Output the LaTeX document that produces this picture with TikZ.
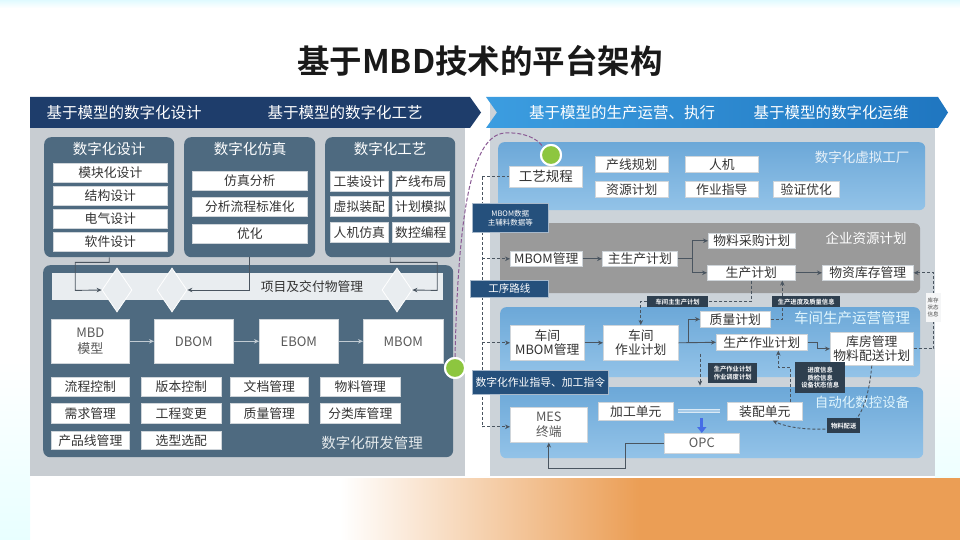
\documentclass[tikz,border=0pt]{standalone}
\usepackage{fontspec}
\setmainfont{Noto Sans CJK SC}[BoldFont={* Bold}]
\usetikzlibrary{shapes.geometric,arrows.meta,calc}
\definecolor{navy}{HTML}{1E3D6B}
\definecolor{hblueA}{HTML}{3C9DE0}
\definecolor{hblueB}{HTML}{1F76C0}
\definecolor{slate}{HTML}{4E6A80}
\definecolor{panelL}{HTML}{C8CDD2}
\definecolor{panelR}{HTML}{CCD3D9}
\definecolor{secA}{HTML}{6CA8D8}
\definecolor{secB}{HTML}{93C3E8}
\definecolor{secGray}{HTML}{9A9A9A}
\definecolor{lblC}{HTML}{25507C}
\definecolor{darkTag}{HTML}{2E3F4F}
\definecolor{greenC}{HTML}{8DC63F}
\definecolor{orangeC}{HTML}{EB9E55}
\definecolor{purpleC}{HTML}{8A5A94}
\definecolor{lineC}{HTML}{4A5560}
\definecolor{itemB}{HTML}{CFD5DA}
\definecolor{barC}{HTML}{E9EDF0}
\newcommand\fsz[2]{\fontsize{#1}{#2}\selectfont}
\begin{document}
\begin{tikzpicture}[x=1pt,y=-1pt,
  box/.style={anchor=north west,inner sep=0pt,align=center},
  cont/.style={box,rounded corners=7pt,fill=slate},
  itm/.style={box,fill=white,draw=itemB,line width=0.6pt,text=black!80,font=\fsz{12.8}{14.5}},
  bom/.style={box,fill=white,draw=itemB,line width=0.6pt,text=black!65,font=\fsz{13}{15.5}},
  ctitle/.style={text=white,font=\fsz{14.5}{16}},
  htext/.style={text=white,font=\fsz{15.5}{17}},
  tag/.style={box,fill=lblC,draw=white!60!lblC,text=white,line width=0.6pt},
  mini/.style={box,fill=darkTag,text=white,font=\bfseries\fsz{6.3}{7.6}},
  arr/.style={draw=lineC,line width=0.9pt,-{Stealth[length=5pt,width=4.5pt]}},
  ln/.style={draw=lineC,line width=0.9pt},
  dsh/.style={draw=lineC,line width=0.9pt,dash pattern=on 3pt off 2pt},
  darr/.style={dsh,-{Stealth[length=5pt,width=4.5pt]}},
  gdot/.style={circle,fill=greenC,draw=white,line width=2pt,minimum size=20pt,inner sep=0pt},
  dia/.style={shape=diamond,fill=barC,draw=white,line width=0.8pt,minimum width=30pt,minimum height=44pt,inner sep=0pt},
]
\useasboundingbox (0,0) rectangle (960,540);
% ---------- background ----------
\fill[white] (0,0) rectangle (960,540);
\shade[top color=blue!15!cyan!12,bottom color=white] (0,0) rectangle (960,8);
\shade[top color=white,bottom color=cyan!9] (0,360) rectangle (30,540);
\shade[top color=white,bottom color=cyan!7] (935,360) rectangle (960,478);
\shade[left color=white,right color=orangeC] (340,478) rectangle (640,540);
\fill[orangeC] (640,478) rectangle (960,540);
\fill[panelL] (30,97) rectangle (465,476);
\fill[panelR] (490,97) rectangle (935,476);
\fill[navy] (30,97) -- (470,97) -- (481,112.5) -- (470,128) -- (30,128) -- cycle;
\shade[left color=hblueA,right color=hblueB] (486,97) -- (938,97) -- (948,112.5) -- (938,128) -- (486,128) -- (497,112.5) -- cycle;

% ---------- title and headers ----------
\node[font=\bfseries\fsz{32.5}{36},text=black!90] (title) at (480,61) {基于MBD技术的平台架构};
\node[htext] (h1) at (124,112.5) {基于模型的数字化设计};
\node[htext] (h2) at (345,112.5) {基于模型的数字化工艺};
\node[htext] (h3) at (622,112.5) {基于模型的生产运营、执行};
\node[htext] (h4) at (831,112.5) {基于模型的数字化运维};

% ---------- left: three upper boxes ----------
\node[cont,minimum width=130,minimum height=120] (dsgn) at (44,137) {};
\node[ctitle] (dsgnT) at (109,149) {数字化设计};
\node[itm,minimum width=114,minimum height=19] (d1) at (53,163) {模块化设计};
\node[itm,minimum width=114,minimum height=19] (d2) at (53,186) {结构设计};
\node[itm,minimum width=114,minimum height=19] (d3) at (53,209) {电气设计};
\node[itm,minimum width=114,minimum height=19] (d4) at (53,232) {软件设计};

\node[cont,minimum width=131,minimum height=120] (sim) at (184,137) {};
\node[ctitle] (simT) at (250,149) {数字化仿真};
\node[itm,minimum width=115,minimum height=19] (s1) at (192,171) {仿真分析};
\node[itm,minimum width=115,minimum height=19] (s2) at (192,197) {分析流程标准化};
\node[itm,minimum width=115,minimum height=19] (s3) at (192,224) {优化};

\node[cont,minimum width=130,minimum height=120] (proc) at (325,137) {};
\node[ctitle] (procT) at (390,149) {数字化工艺};
\node[itm,minimum width=58,minimum height=20] (p1) at (330,171) {工装设计};
\node[itm,minimum width=57,minimum height=20] (p2) at (392,171) {产线布局};
\node[itm,minimum width=58,minimum height=20] (p3) at (330,196) {虚拟装配};
\node[itm,minimum width=57,minimum height=20] (p4) at (392,196) {计划模拟};
\node[itm,minimum width=58,minimum height=20] (p5) at (330,222) {人机仿真};
\node[itm,minimum width=57,minimum height=20] (p6) at (392,222) {数控编程};

% ---------- left: R&D management ----------
\node[cont,minimum width=410,minimum height=192] (mgmt) at (43,265) {};
\node[box,fill=barC,minimum width=391,minimum height=27] (bar) at (52,273) {};
\node[font=\fsz{12.8}{14.5},text=black!80] (barT) at (312,287) {项目及交付物管理};
\node[dia] (dia1) at (117,290) {};
\node[dia] (dia2) at (172,290) {};
\node[dia] (dia3) at (397,290) {};

\node[bom,minimum width=78,minimum height=44] (mbd) at (51,319) {MBD\\模型};
\node[bom,minimum width=79,minimum height=44] (dbom) at (154,319) {DBOM};
\node[bom,minimum width=79,minimum height=44] (ebom) at (259,319) {EBOM};
\node[bom,minimum width=80,minimum height=44] (mbom) at (363,319) {MBOM};

\node[itm,minimum width=78,minimum height=19] (m1) at (51,377) {流程控制};
\node[itm,minimum width=80,minimum height=19] (m2) at (141,377) {版本控制};
\node[itm,minimum width=78,minimum height=19] (m3) at (230,377) {文档管理};
\node[itm,minimum width=80,minimum height=19] (m4) at (320,377) {物料管理};
\node[itm,minimum width=78,minimum height=20] (m5) at (51,403) {需求管理};
\node[itm,minimum width=80,minimum height=20] (m6) at (141,403) {工程变更};
\node[itm,minimum width=78,minimum height=20] (m7) at (230,403) {质量管理};
\node[itm,minimum width=80,minimum height=20] (m8) at (320,403) {分类库管理};
\node[itm,minimum width=78,minimum height=18] (m9) at (51,431) {产品线管理};
\node[itm,minimum width=80,minimum height=18] (m10) at (141,431) {选型选配};
\node[text=white!85!slate,font=\fsz{14.5}{16}] (mgmtT) at (372,443) {数字化研发管理};

% left connectors
\draw[arr] (dsgn.south) -- ++(0,5) -| ++(-34,28) -- (dia1.west);
\draw[arr] (sim.south) |- (dia2.east);
\draw[arr] (proc.south) -- ++(0,5) -| ++(47,28) -- (dia3.east);
\draw[arr,draw=white!65!slate] (mbd.east) -- (dbom.west);
\draw[arr,draw=white!65!slate] (dbom.east) -- (ebom.west);
\draw[arr,draw=white!65!slate] (ebom.east) -- (mbom.west);

% ---------- right: sections ----------
\node[box,rounded corners=6pt,top color=secA,bottom color=secB,minimum width=427,minimum height=68] (vf) at (498,142) {};
\node[text=white!85!secA,font=\fsz{13.5}{15}] (vfT) at (862,157) {数字化虚拟工厂};
\node[itm,font=\fsz{13.5}{15},minimum width=73,minimum height=21] (gy) at (509,166) {工艺规程};
\node[itm,minimum width=73,minimum height=16] (cx) at (595,156) {产线规划};
\node[itm,minimum width=73,minimum height=16] (rj) at (685,156) {人机};
\node[itm,minimum width=73,minimum height=16] (zy) at (595,181) {资源计划};
\node[itm,minimum width=73,minimum height=16] (zd) at (685,181) {作业指导};
\node[itm,minimum width=66,minimum height=16] (yz) at (773,181) {验证优化};

\node[box,rounded corners=6pt,fill=secGray,minimum width=420,minimum height=70] (erp) at (500,223) {};
\node[text=white,font=\fsz{13.5}{15}] (erpT) at (866,238) {企业资源计划};
\node[itm,minimum width=72,minimum height=15] (mbomg) at (510,251) {MBOM管理};
\node[itm,minimum width=75,minimum height=15] (zsc) at (602,251) {主生产计划};
\node[itm,minimum width=87,minimum height=15] (wl) at (708,233) {物料采购计划};
\node[itm,minimum width=88,minimum height=15] (scjh) at (707,265) {生产计划};
\node[itm,minimum width=91,minimum height=15] (wz) at (822,265) {物资库存管理};

\node[box,rounded corners=6pt,top color=secA,bottom color=secB,minimum width=420,minimum height=70] (wsp) at (500,307) {};
\node[text=cyan!12!white,font=\fsz{14.5}{16}] (wspT) at (852,318) {车间生产运营管理};
\node[itm,minimum width=74,minimum height=35] (cjm) at (510,325) {车间\\MBOM管理};
\node[itm,minimum width=75,minimum height=35] (cjzy) at (603,325) {车间\\作业计划};
\node[itm,minimum width=70,minimum height=16] (zljh) at (700,311) {质量计划};
\node[itm,minimum width=91,minimum height=16] (sczy) at (716,334) {生产作业计划};
\node[itm,minimum width=83,minimum height=33] (kf) at (830,332) {库房管理\\物料配送计划};

\node[box,rounded corners=6pt,top color=secA,bottom color=secB,minimum width=423,minimum height=71] (auto) at (500,387) {};
\node[text=white!88!cyan,font=\fsz{13.5}{15}] (autoT) at (862,402) {自动化数控设备};
\node[itm,text=black!65,minimum width=77,minimum height=35] (mes) at (510,407) {MES\\终端};
\node[itm,minimum width=75,minimum height=18] (jg) at (598,402) {加工单元};
\node[itm,minimum width=75,minimum height=18] (zp) at (727,402) {装配单元};
\node[itm,text=black!65,minimum width=75,minimum height=20] (opc) at (664,433) {OPC};

% ---------- right connectors ----------
\coordinate (sp) at (482,0);
\draw[dsh] (gy.west -| sp) -- ([yshift=-2pt]mes.west -| sp);
\draw[dsh] (gy.west -| sp) -- (gy.west);
\draw[darr] (mbomg.west -| sp) -- (mbomg.west);
\draw[darr] (cjm.west -| sp) -- (cjm.west);
\draw[darr] ([yshift=-2pt]mes.west -| sp) -- ([yshift=-2pt]mes.west);

\draw[arr] (mbomg.east) -- (zsc.west);
\draw[ln] (zsc.east) -- ++(15,0) coordinate (br);
\draw[arr] (br) |- (wl.west);
\draw[arr] (br) |- (scjh.west);
\draw[arr] (scjh.east) -- (wz.east -| wz.west);
\draw[darr] (scjh.south) -- ++(0,21) -| (cjzy.north);
\draw[darr] (zljh.east) -| ([xshift=31pt]scjh.south);
\draw[darr] (kf.east) -- ++(20,0) |- (wz.east);

\draw[arr] (cjm.east) -- (cjzy.west);
\draw[arr] (cjzy.east) -- (sczy.west);
\draw[arr] ([xshift=10pt]cjzy.east) |- (zljh.west);
\draw[arr] (sczy.east) -- ++(10,0) |- (kf.west);
\draw[darr] ([xshift=-16pt,yshift=-3pt]sczy.south west) -- ++(0,32);
\draw[darr] ([xshift=25.5pt]zp.north) |- ([xshift=16.5pt,yshift=-17pt]sczy.south) -- ([xshift=16.5pt]sczy.south);
\draw[line width=1pt,draw=white!75!secA,double=secA!60!white,double distance=2pt] ([xshift=4pt]jg.east) -- ([xshift=-7pt]zp.west);
\draw[line width=3pt,draw=blue!35!secA,-{Triangle[length=6pt,width=9pt]}] ([yshift=15pt]opc.north) -- (opc.north);
\draw[arr] (opc.west) -- ++(-39,0) -- ++(0,25) -| (mes.south);
\draw[darr] (kf.south) .. controls (869,395) and (862,426) .. (840,428) .. controls (812,431) and (788,428) .. ([xshift=8pt]zp.south);

% purple link between the platforms
\node[gdot] (dotL) at (455,368) {};
\node[gdot] (dotR) at (551,155) {};
\draw[purpleC,line width=1pt,dash pattern=on 4pt off 2pt] (dotL.north) .. controls (458,230) and (468,135) .. (505,133) .. controls (525,132) and (538,139) .. (dotR.north west);
\node[gdot] (dotL2) at (dotL) {};
\node[gdot] (dotR2) at (dotR) {};

% ---------- tags ----------
\node[tag,minimum width=76,minimum height=29,font=\fsz{7.5}{9}] (tM) at (472,203) {MBOM数据\\主辅料数据等};
\node[tag,minimum width=78,minimum height=17,font=\fsz{10.5}{11.5}] (tR) at (470,280) {工序路线};
\node[tag,minimum width=136,minimum height=24,font=\fsz{10.8}{12}] (tD) at (472,370) {数字化作业指导、加工指令};
\node[mini,minimum width=61,minimum height=11] (tA) at (647,296) {车间主生产计划};
\node[mini,minimum width=68,minimum height=11] (tB) at (772,296) {生产进度及质量信息};
\node[mini,minimum width=49,minimum height=20] (tC) at (708,363) {生产作业计划\\作业调度计划};
\node[mini,minimum width=50,minimum height=31] (tE) at (795,362) {进度信息\\质检信息\\设备状态信息};
\node[mini,minimum width=33,minimum height=15] (tF) at (827,418) {物料配送};
\node[box,fill=white!80!panelR,text=black!70,font=\fsz{5.5}{7},minimum width=15,minimum height=29] (tG) at (925.5,293) {库存\\状态\\信息};
\end{tikzpicture}
\end{document}
